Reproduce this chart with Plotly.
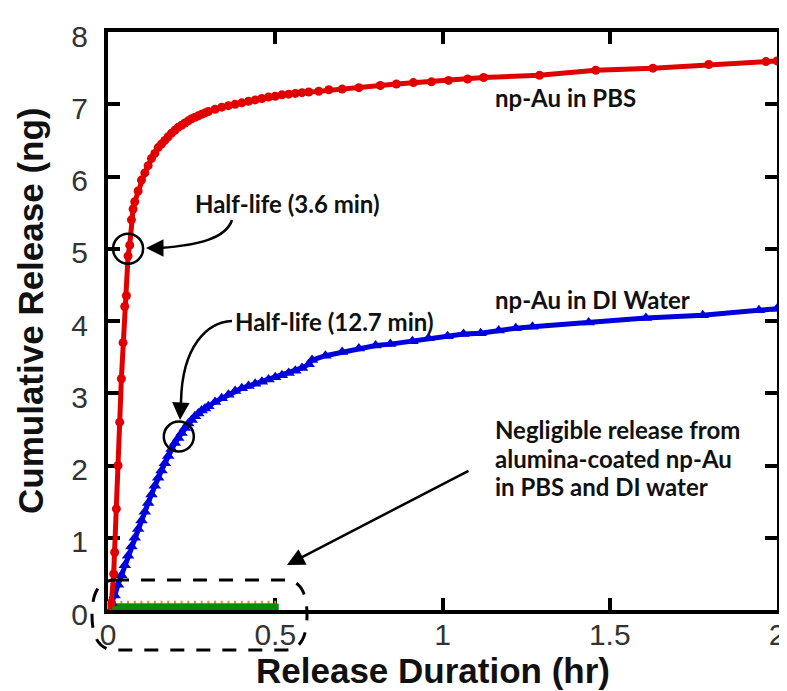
import plotly.graph_objects as go

# ---------------- data ----------------
pbs_t = [0, 0.01, 0.017, 0.02, 0.025, 0.03, 0.035, 0.04, 0.045, 0.05, 0.055, 0.06, 0.065, 0.07,
         0.075, 0.08, 0.09, 0.10, 0.11, 0.12, 0.13, 0.14, 0.15, 0.16, 0.17, 0.18, 0.19, 0.20,
         0.21, 0.22, 0.23, 0.24, 0.25, 0.26, 0.27, 0.28, 0.29, 0.30, 0.32, 0.34, 0.36, 0.38,
         0.40, 0.42, 0.44, 0.46, 0.48, 0.50, 0.52, 0.54, 0.56, 0.58, 0.60, 0.63, 0.66, 0.70,
         0.75, 0.814, 0.862, 0.913, 0.967, 1.018, 1.075, 1.123, 1.29, 1.458, 1.629, 1.796, 1.967, 2.0]
pbs_ng = [0, 0.1, 0.5, 0.8, 1.4, 2.0, 2.6, 3.2, 3.7, 4.2, 4.35, 4.9, 5.05, 5.4,
          5.55, 5.65, 5.8, 5.95, 6.05, 6.15, 6.25, 6.32, 6.4, 6.45, 6.5, 6.55, 6.6, 6.64,
          6.68, 6.71, 6.74, 6.77, 6.8, 6.82, 6.84, 6.86, 6.88, 6.9, 6.93, 6.96, 6.98, 7.0,
          7.02, 7.04, 7.06, 7.08, 7.1, 7.11, 7.13, 7.14, 7.15, 7.16, 7.17, 7.18, 7.2, 7.21,
          7.23, 7.26, 7.28, 7.3, 7.31, 7.33, 7.35, 7.37, 7.4, 7.47, 7.5, 7.55, 7.59, 7.6]

di_t = [0, 0.01, 0.02, 0.03, 0.04, 0.05, 0.06, 0.07, 0.08, 0.09, 0.10, 0.11, 0.12, 0.13, 0.14,
        0.15, 0.16, 0.17, 0.18, 0.19, 0.20, 0.21, 0.22, 0.23, 0.24, 0.25, 0.26, 0.27, 0.28,
        0.29, 0.30, 0.32, 0.34, 0.36, 0.38, 0.40, 0.42, 0.44, 0.46, 0.48, 0.50, 0.52, 0.54,
        0.56, 0.58, 0.60, 0.61, 0.65, 0.70, 0.75, 0.80, 0.844, 0.91, 0.958, 1.015, 1.063,
        1.114, 1.168, 1.219, 1.269, 1.437, 1.608, 1.778, 1.946, 2.0]
di_ng = [0, 0.1, 0.2, 0.35, 0.48, 0.62, 0.75, 0.88, 1.0, 1.12, 1.24, 1.36, 1.48, 1.6, 1.72,
         1.83, 1.93, 2.03, 2.13, 2.23, 2.31, 2.38, 2.45, 2.52, 2.58, 2.63, 2.68, 2.72, 2.76,
         2.79, 2.82, 2.88, 2.93, 2.98, 3.03, 3.07, 3.1, 3.13, 3.16, 3.19, 3.22, 3.25, 3.28,
         3.31, 3.35, 3.4, 3.46, 3.52, 3.57, 3.62, 3.66, 3.68, 3.72, 3.76, 3.79, 3.82,
         3.83, 3.87, 3.9, 3.92, 3.98, 4.04, 4.08, 4.15, 4.17]

coated_t = [0, 0.02, 0.04, 0.06, 0.08, 0.10, 0.12, 0.14, 0.16, 0.18, 0.20, 0.22, 0.24, 0.26,
            0.28, 0.30, 0.32, 0.34, 0.36, 0.38, 0.40, 0.42, 0.44, 0.46, 0.48, 0.50]
coated_pbs_ng = [0.07] * len(coated_t)
coated_di_ng = [0.04] * len(coated_t)

half_life_min = [3.6, 12.7]
half_life_ng = [5.0, 2.4]

x_ticks = [0, 0.5, 1, 1.5, 2]
x_tick_labels = ["0", "0.5", "1", "1.5", "2"]
y_ticks = [0, 1, 2, 3, 4, 5, 6, 7, 8]
y_tick_labels = ["0", "1", "2", "3", "4", "5", "6", "7", "8"]

# ---------------- layout helpers (page pixel -> paper) ----------------
OFF = 8                      # default page body margin of the html page
W, H = 787 - OFF, 691 - OFF
L, R, T, B = 108 - OFF, 10, 32 - OFF, 81
PW, PH = W - L - R, H - T - B


def px(x):
    return (x - OFF - L) / PW


def py(y):
    return (T + PH - (y - OFF)) / PH


fig = go.Figure()

fig.add_trace(go.Scatter(x=coated_t, y=coated_pbs_ng, mode="markers", cliponaxis=False,
                         marker=dict(symbol="line-ns", size=6, color="#FF8A00",
                                     line=dict(width=2, color="#FF8A00")),
                         showlegend=False))
fig.add_trace(go.Scatter(x=coated_t, y=coated_di_ng, mode="lines+markers",
                         line=dict(color="#0A8A0A", width=7),
                         marker=dict(symbol="square", size=7, color="#0A8A0A"),
                         showlegend=False))
fig.add_trace(go.Scatter(x=di_t, y=di_ng, mode="lines+markers",
                         line=dict(color="#0000DD", width=5),
                         marker=dict(symbol="triangle-up", size=11, color="#0000DD"),
                         showlegend=False))
fig.add_trace(go.Scatter(x=pbs_t, y=pbs_ng, mode="lines+markers",
                         line=dict(color="#E00000", width=5),
                         marker=dict(symbol="circle", size=9, color="#E00000"),
                         showlegend=False))

shapes = []
# half-life circles (data coords)
rx, ry = 15 / 334, 15 / 72.25
for m, v in zip(half_life_min, half_life_ng):
    cx = m / 60
    shapes.append(dict(type="circle", xref="x", yref="y", x0=cx - rx, x1=cx + rx,
                       y0=v - ry, y1=v + ry, line=dict(color="black", width=2.5)))

# curved arrow 1 (3.6 min)
p1 = f"M {px(232)},{py(220)} C {px(226)},{py(238)} {px(200)},{py(245)} {px(160)},{py(248)}"
# curved arrow 2 (12.7 min)
p2 = f"M {px(232)},{py(321)} C {px(208)},{py(322)} {px(182)},{py(345)} {px(181)},{py(402)}"
for p in (p1, p2):
    shapes.append(dict(type="path", xref="paper", yref="paper", path=p,
                       line=dict(color="black", width=2.5)))

# dashed rounded box
box = (f"M {px(115)},{py(580)} L {px(285)},{py(580)} "
       f"Q {px(307)},{py(580)} {px(307)},{py(615)} "
       f"Q {px(307)},{py(650)} {px(285)},{py(650)} "
       f"L {px(115)},{py(650)} "
       f"Q {px(92)},{py(650)} {px(92)},{py(615)} "
       f"Q {px(92)},{py(580)} {px(115)},{py(580)} Z")
shapes.append(dict(type="path", xref="paper", yref="paper", path=box,
                   line=dict(color="black", width=3, dash="14px,12px")))

ann_font = dict(family="Lato", size=24, color="#111", weight=700)


def label(text, x, y):
    return dict(text=text, x=px(x), y=py(y), xref="paper", yref="paper",
                xanchor="left", yanchor="middle", showarrow=False, font=ann_font)


annotations = [
    label("Half-life (3.6 min)", 193, 203),
    label("Half-life (12.7 min)", 233, 321),
    label("np-Au in PBS", 493, 98),
    label("np-Au in DI Water", 493, 299),
    label("Negligible release from", 493, 429),
    label("alumina-coated np-Au", 493, 458),
    label("in PBS and DI water", 493, 486),
    # arrowheads
    dict(text="", x=px(146), y=py(248), xref="paper", yref="paper", showarrow=True,
         ax=18, ay=0, arrowhead=2, arrowsize=1.4, arrowwidth=2.5, arrowcolor="black"),
    dict(text="", x=px(180), y=py(420), xref="paper", yref="paper", showarrow=True,
         ax=1, ay=-20, arrowhead=2, arrowsize=1.4, arrowwidth=2.5, arrowcolor="black"),
    dict(text="", x=px(287), y=py(565), xref="paper", yref="paper", showarrow=True,
         ax=183, ay=-95, arrowhead=2, arrowsize=1.4, arrowwidth=2.5, arrowcolor="black"),
    # axis titles
    dict(text="Cumulative Release (ng)", x=px(30), y=py(311), xref="paper", yref="paper",
         xanchor="center", yanchor="middle", textangle=-90, showarrow=False,
         font=dict(family="Liberation Sans", size=35, color="#111", weight=700)),
    dict(text="Release Duration (hr)", x=px(433), y=py(670), xref="paper", yref="paper",
         xanchor="center", yanchor="middle", showarrow=False,
         font=dict(family="Liberation Sans", size=35, color="#111", weight=700)),
]

axis_common = dict(showline=True, linewidth=4, linecolor="black", mirror="ticks",
                   ticks="inside", ticklen=12, tickwidth=4, tickcolor="black",
                   showgrid=False, zeroline=False, layer="below traces", automargin=False,
                   tickfont=dict(family="Liberation Sans", size=30, color="#333"))

fig.update_layout(
    width=W, height=H,
    margin=dict(l=L, r=R, t=T, b=B, autoexpand=False),
    paper_bgcolor="white", plot_bgcolor="white",
    xaxis=dict(range=[0, 2], tickvals=x_ticks, ticktext=x_tick_labels,
               ticklabelstandoff=-5, **axis_common),
    yaxis=dict(range=[0, 8], tickvals=y_ticks, ticktext=y_tick_labels,
               ticklabelstandoff=10, ticklabelshift=4, **axis_common),
    shapes=shapes, annotations=annotations, showlegend=False,
)

fig.write_html("out.html")
